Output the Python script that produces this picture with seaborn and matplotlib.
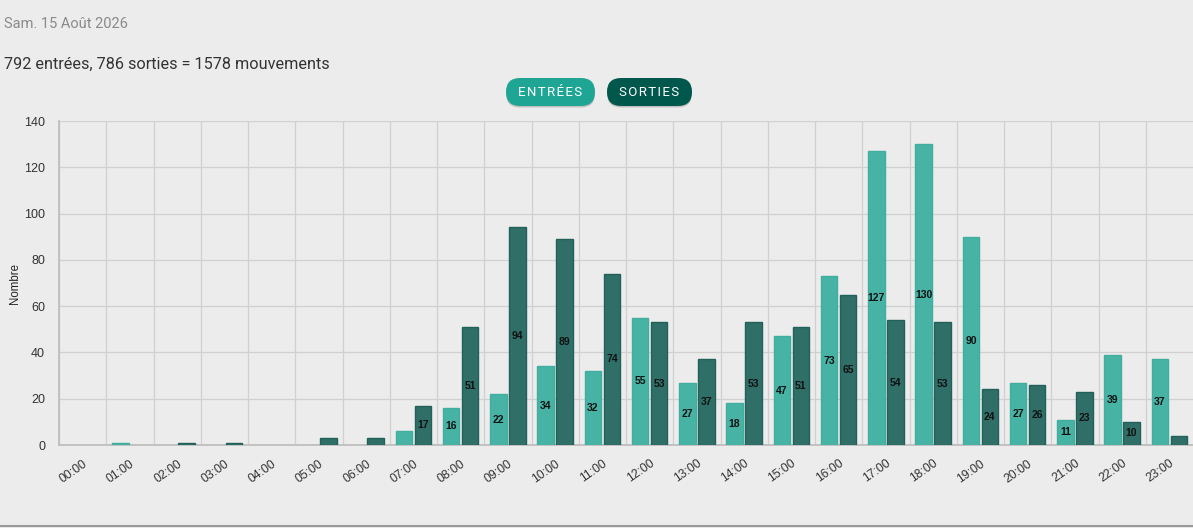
import pandas as pd
import numpy as np
import matplotlib.pyplot as plt
import seaborn as sns
from matplotlib.patches import FancyBboxPatch
from matplotlib.transforms import IdentityTransform

hours = [f'{h:02d}:00' for h in range(24)]
entrees = [0, 1, 0, 0, 0, 0, 0, 6, 16, 22, 34, 32, 55, 27, 18, 47, 73, 127, 130, 90, 27, 11, 39, 37]
sorties = [0, 0, 1, 1, 0, 3, 3, 17, 51, 94, 89, 74, 53, 37, 53, 51, 65, 54, 53, 24, 26, 23, 10, 4]
date_text = 'Sam. 15 Août 2026'
summary = f'{sum(entrees)} entrées, {sum(sorties)} sorties = {sum(entrees) + sum(sorties)} mouvements'

df = pd.DataFrame({'heure': hours * 2,
                   'nombre': entrees + sorties,
                   'sens': ['Entrées'] * 24 + ['Sorties'] * 24})

bg = '#ececec'
sns.set_theme(style='white')
plt.rcParams['font.family'] = ['Liberation Sans', 'DejaVu Sans']

W, H = 1193, 528
fig = plt.figure(figsize=(W / 100, H / 100), dpi=100, facecolor=bg)
ax = fig.add_axes([59 / W, 1 - 445 / H, 1 - 59 / W, (445 - 121) / H])
ax.set_facecolor(bg)

sns.barplot(data=df, x='heure', y='nombre', hue='sens', ax=ax,
            palette={'Entrées': '#47b3a4', 'Sorties': '#2f6f68'}, saturation=1,
            width=0.8, gap=0.12, linewidth=1, legend=False, zorder=3)
for bar, col in zip(ax.patches, ['#3fae9f'] * 24 + ['#22605a'] * 24):
    bar.set_edgecolor(col)
    if bar.get_height() == 0:
        bar.set_linewidth(0)

for bar in ax.patches:
    h = bar.get_height()
    if h >= 10:
        ax.text(bar.get_x() + bar.get_width() / 2, h / 2, f'{int(h)}',
                ha='center', va='center', fontsize=7.5, fontweight='bold',
                color='#111111', zorder=4)

ax.set_xlim(-0.5, 23.5)
ax.set_ylim(0, 140)
ax.set_yticks(range(0, 141, 20))
ax.set_xticks(np.arange(-0.5, 23.5, 1), minor=True)
ax.grid(True, which='minor', axis='x', color='#d0d0d0', linewidth=0.9, zorder=0)
ax.grid(True, which='major', axis='y', color='#d0d0d0', linewidth=0.9, zorder=0)
ax.tick_params(axis='x', which='major', length=0, pad=9, labelsize=8.8, labelcolor='#333333')
ax.tick_params(axis='x', which='minor', length=7, color='#d0d0d0', width=0.9)
ax.tick_params(axis='y', length=7, color='#d0d0d0', width=0.9, labelsize=9, labelcolor='#333333', pad=3)
plt.setp(ax.get_xticklabels(), rotation=35, ha='right', rotation_mode='anchor')
ax.set_xlabel('')
ax.set_ylabel('')
for s in ['top', 'right']:
    ax.spines[s].set_visible(False)
ax.spines['left'].set_color('#bdbdbd')
ax.spines['bottom'].set_color('#bdbdbd')

fig.text(15 / W, 1 - 283 / H, 'Nombre', fontsize=8.3, color='#222222',
         rotation=90, ha='center', va='center')
fig.text(4 / W, 1 - 24 / H, date_text, fontsize=10.5, color='#8a8a8a',
         family=['Roboto', 'DejaVu Sans'], va='center')
fig.text(4 / W, 1 - 64 / H, summary, fontsize=11.7, color='#333333',
         family=['Roboto', 'DejaVu Sans'], va='center')

# boutons (coordonnées en pixels, origine en bas)
for label, x0, x1, col in [('ENTRÉES', 506, 595, '#1fa594'), ('SORTIES', 607, 692, '#00574b')]:
    y0, y1 = H - 106, H - 78
    r = (y1 - y0) / 2
    pill = FancyBboxPatch((x0 + r, y0 + r), x1 - x0 - 2 * r, 0,
                          boxstyle=f'round,pad={r},rounding_size={r}', transform=IdentityTransform(),
                          facecolor=col, edgecolor='none')
    shadow = FancyBboxPatch((x0 + r, y0 + r - 1.5), x1 - x0 - 2 * r, 0,
                            boxstyle=f'round,pad={r},rounding_size={r}', transform=IdentityTransform(),
                            facecolor='#c2c2c2', edgecolor='none')
    fig.add_artist(shadow)
    fig.add_artist(pill)
    spaced = '\u200a'.join(label)
    fig.text((x0 + x1) / 2 / W, (y0 + y1) / 2 / H, spaced, color='white', fontsize=9.5,
             ha='center', va='center', family=['Roboto', 'DejaVu Sans'])

fig.add_artist(plt.Line2D([0, 1], [1 - 526 / H] * 2, color='#9a9a9a', linewidth=1.5, transform=fig.transFigure))

fig.savefig('out.png', dpi=100, facecolor=bg)
